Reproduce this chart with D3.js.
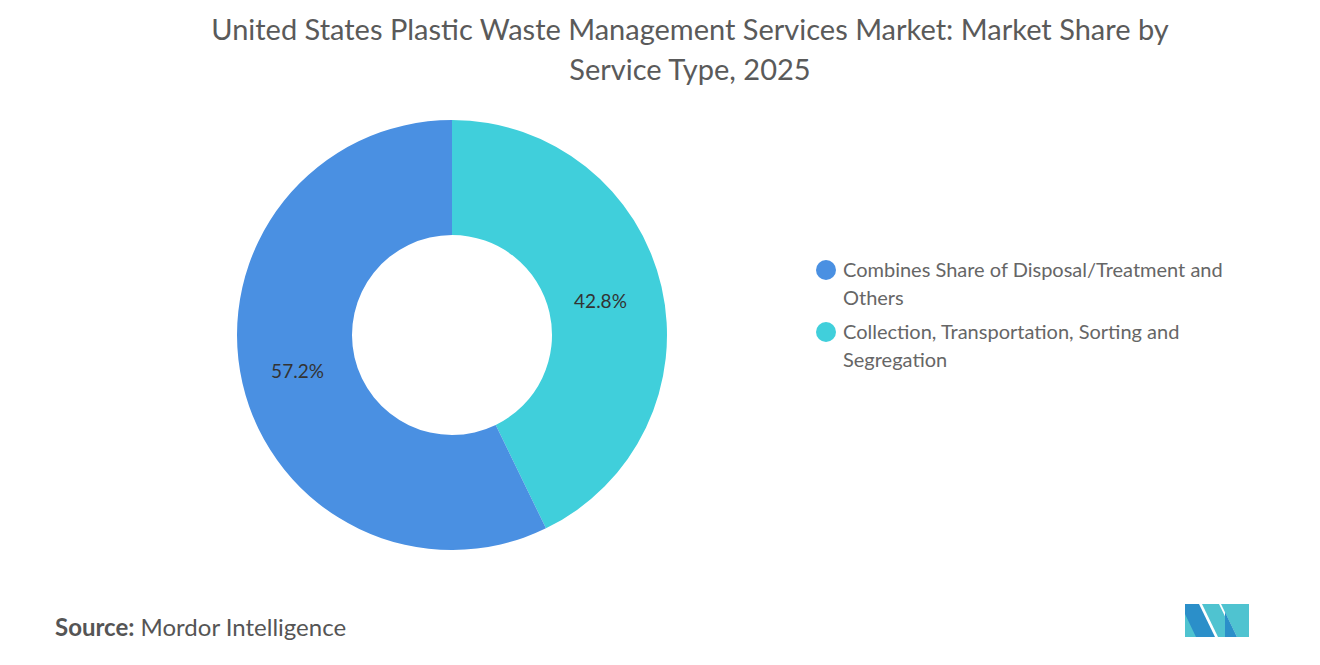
<!DOCTYPE html><html><head><meta charset="utf-8"><script src="https://cdn.jsdelivr.net/npm/d3@7"></script>
<style>body{margin:0;background:#fff}text{font-family:Lato,"Open Sans",sans-serif}</style></head><body>
<svg id="c" width="1320" height="665"></svg>
<script>
const categories=["Collection, Transportation, Sorting and Segregation","Combines Share of Disposal/Treatment and Others"];
const values=[42.8,57.2];
const colors=["#40CFDB","#4A90E2"];
const legendOrder=[1,0];
const legendLines=[["Combines Share of Disposal/Treatment and","Others"],["Collection, Transportation, Sorting and","Segregation"]];
const svg=d3.select("#c");
svg.append("text").attr("x",690).attr("y",40).attr("text-anchor","middle").attr("font-size",29).attr("fill","#5a5a5a").text("United States Plastic Waste Management Services Market: Market Share by");
svg.append("text").attr("x",690).attr("y",80).attr("text-anchor","middle").attr("font-size",29).attr("fill","#5a5a5a").text("Service Type, 2025");
const cx=452,cy=335,R=215,r=100;
const pie=d3.pie().sort(null).value(d=>d)(values);
const arc=d3.arc().innerRadius(r).outerRadius(R);
const g=svg.append("g").attr("transform",`translate(${cx},${cy})`);
g.selectAll("path").data(pie).enter().append("path").attr("d",arc).attr("fill",(d,i)=>colors[i]);
const la=d3.arc().innerRadius(r).outerRadius(R);
g.selectAll("text.l").data(pie).enter().append("text").attr("transform",d=>{const c=la.centroid(d);return `translate(${c[0]-(d.index?1:5)},${c[1]+8})`;})
 .attr("text-anchor","middle").attr("font-size",19).attr("fill","#333").text(d=>d.data.toFixed(1)+"%");
legendOrder.forEach((k,j)=>{
 const y=270+j*62;
 svg.append("circle").attr("cx",826).attr("cy",y).attr("r",10).attr("fill",colors[k]);
 legendLines[j].forEach((t,m)=>svg.append("text").attr("x",843).attr("y",y+7+m*28).attr("font-size",20).attr("fill","#666").text(t));
});
svg.append("text").attr("x",55).attr("y",636).attr("font-size",24).attr("fill","#555").html('<tspan font-weight="bold">Source:</tspan> Mordor Intelligence');
const L=svg.append("g").attr("transform","translate(1185,604)");
L.append("path").attr("d","M0,0 L14,0 L30,33 L0,33Z").attr("fill","#2B8FC9");
L.append("path").attr("d","M0,10 L11,33 L0,33Z").attr("fill","#4FC3D0");
L.append("path").attr("d","M17,0 L34,0 L50,33 L33,33Z").attr("fill","#4FC3D0");
L.append("path").attr("d","M36,0 L64,0 L64,33 L52,33 L36,0Z").attr("fill","#4FC3D0");
L.append("path").attr("d","M40,8 L52,33 L40,33Z").attr("fill","#2B8FC9");
</script></body></html>
